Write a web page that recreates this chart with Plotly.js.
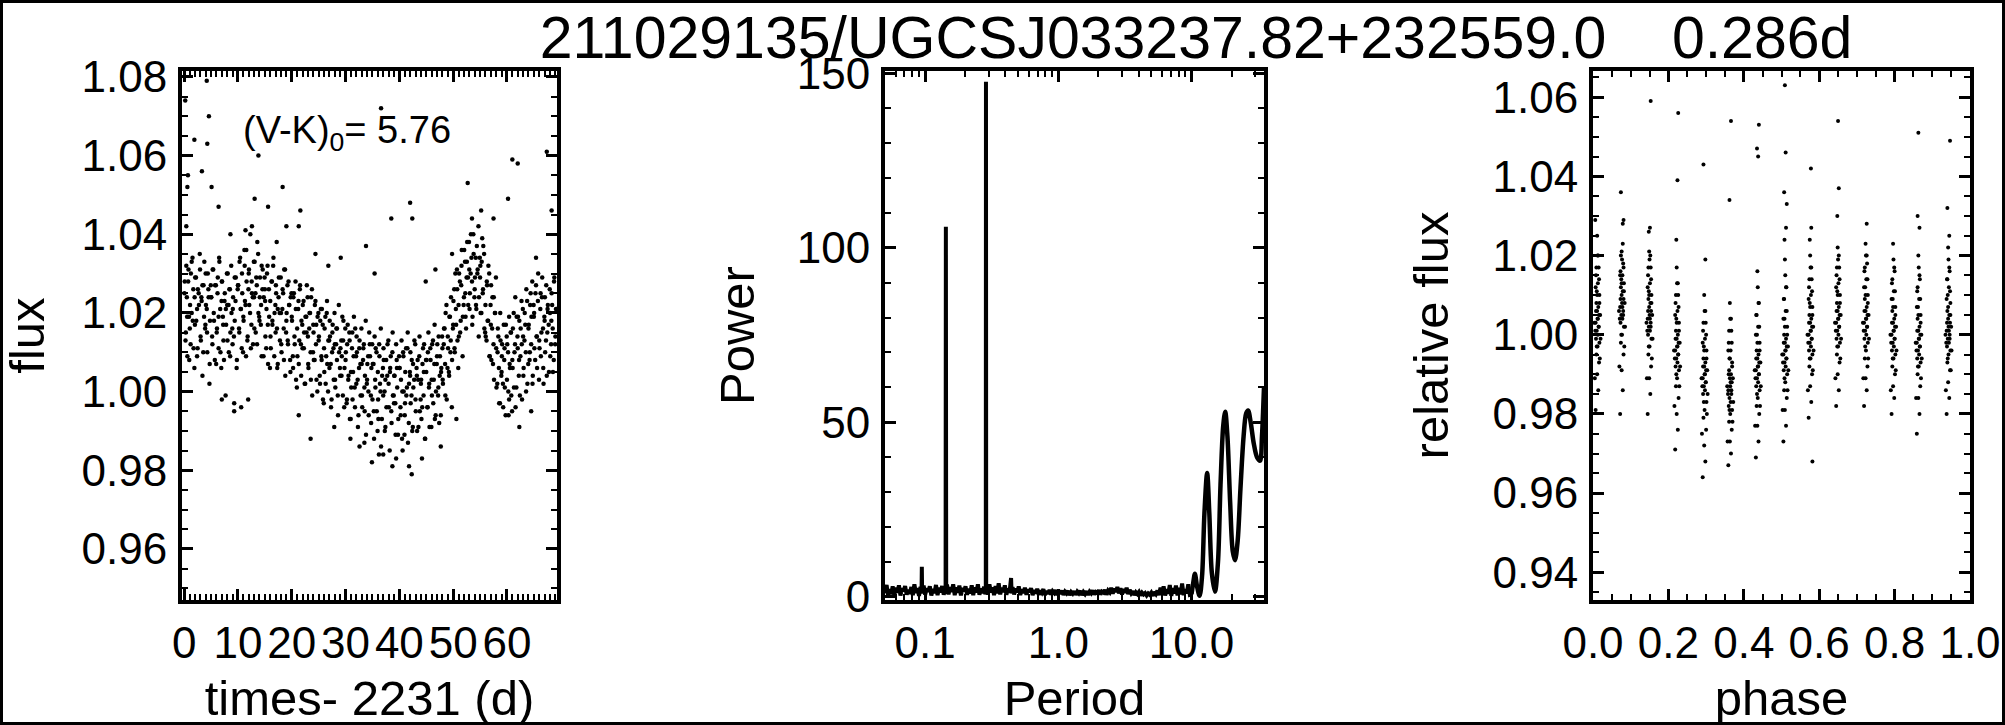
<!DOCTYPE html>
<html><head><meta charset="utf-8">
<script src="https://cdn.plot.ly/plotly-3.0.1.min.js"></script>
<style>html,body{margin:0;padding:0;background:#fff}#chart{width:2005px;height:725px}</style>
</head><body><div id="chart"></div><script>
// ---------- Panel 1: light curve (time - 2231 d, flux) ----------
const time1 = [
0.1,0.3,0.5,0.6,0.8,0.9, 1.1,1.2,1.4,1.6,1.7,1.9, 2.0,2.2,2.4,2.5,2.7,2.9, 3.1,3.2,3.4,3.6,3.7,3.9, 4.0,4.2,4.3,4.5,4.7,4.8,
5.0,5.2,5.3,5.5,5.7,5.9, 6.1,6.2,6.4,6.5,6.7,6.9, 7.0,7.2,7.3,7.5,7.7,7.8, 8.0,8.1,8.3,8.5,8.6,8.8, 9.0,9.1,9.3,9.4,9.6,9.8,
10.0,10.2,10.3,10.5,10.7,10.8, 11.0,11.2,11.3,11.5,11.6,11.8, 12.0,12.1,12.3,12.5,12.6,12.8, 13.0,13.1,13.3,13.5,13.6,13.8, 14.0,14.1,14.3,14.4,14.6,14.8,
15.0,15.1,15.3,15.5,15.6,15.8, 16.0,16.1,16.3,16.4,16.6,16.8, 17.0,17.1,17.3,17.4,17.6,17.8, 18.0,18.1,18.3,18.5,18.6,18.8, 19.0,19.2,19.3,19.5,19.7,19.8,
20.0,20.2,20.3,20.5,20.7,20.8, 21.0,21.2,21.3,21.5,21.7,21.8, 22.0,22.2,22.3,22.5,22.7,22.8, 23.0,23.1,23.3,23.5,23.6,23.8, 24.0,24.1,24.3,24.5,24.6,24.8,
25.0,25.2,25.3,25.5,25.6,25.8, 26.0,26.1,26.3,26.5,26.6,26.8, 27.0,27.1,27.3,27.5,27.6,27.8, 28.0,28.1,28.3,28.4,28.6,28.8, 29.0,29.2,29.3,29.5,29.6,29.8,
30.0,30.2,30.3,30.5,30.7,30.8, 31.0,31.2,31.3,31.5,31.7,31.8, 32.0,32.1,32.3,32.5,32.6,32.8, 33.0,33.1,33.3,33.5,33.6,33.8, 34.0,34.2,34.3,34.5,34.7,34.8,
35.0,35.2,35.3,35.5,35.6,35.8, 36.0,36.1,36.3,36.5,36.6,36.8, 37.0,37.1,37.3,37.4,37.6,37.8, 38.0,38.2,38.3,38.5,38.7,38.8, 39.0,39.1,39.3,39.5,39.6,39.8,
40.0,40.2,40.3,40.5,40.7,40.8, 41.0,41.1,41.3,41.5,41.6,41.8, 42.0,42.1,42.3,42.5,42.6,42.8, 43.0,43.2,43.3,43.5,43.7,43.8, 44.0,44.1,44.3,44.5,44.6,44.8,
45.0,45.2,45.3,45.5,45.6,45.8, 46.0,46.1,46.3,46.5,46.6,46.8, 47.0,47.2,47.3,47.5,47.7,47.8, 48.0,48.1,48.3,48.5,48.6,48.8, 49.0,49.2,49.3,49.5,49.6,49.8,
50.0,50.2,50.3,50.5,50.7,50.8, 51.0,51.1,51.3,51.5,51.6,51.8, 52.0,52.2,52.3,52.5,52.6,52.8, 53.0,53.1,53.3,53.5,53.6,53.8, 54.0,54.2,54.3,54.5,54.7,54.8,
55.0,55.1,55.3,55.5,55.6,55.8, 56.0,56.2,56.3,56.5,56.7,56.8, 57.0,57.1,57.3,57.5,57.6,57.8, 58.0,58.2,58.3,58.5,58.7,58.8, 59.0,59.1,59.3,59.5,59.6,59.8,
60.0,60.2,60.3,60.5,60.7,60.8, 61.0,61.1,61.3,61.5,61.6,61.8, 62.0,62.2,62.3,62.5,62.7,62.8, 63.0,63.1,63.3,63.5,63.6,63.8, 64.0,64.2,64.3,64.5,64.7,64.8,
65.0,65.1,65.3,65.5,65.6,65.8, 66.0,66.2,66.3,66.5,66.7,66.8, 67.0,67.1,67.3,67.5,67.6,67.8, 68.0,68.2,68.3,68.5,68.7,68.8, 69.0,69.1
];
const flux1 = [
1.028,1.015,1.024,1.009,1.031,1.019, 1.022,1.012,1.033,1.018,1.026,1.006, 1.017,1.029,1.021,1.011,1.025,1.035, 1.013,1.024,1.004,1.027,1.019,1.016, 1.030,1.021,1.010,1.026,1.002,1.018,
1.024,1.014,1.031,1.020,1.008,1.027, 1.016,1.025,1.011,1.034,1.021,1.006, 1.028,1.019,1.013,1.023,0.999,1.017, 1.022,1.030,1.010,1.026,1.015,1.020, 1.012,1.024,0.997,1.018,1.029,1.008,
1.027,1.016,1.033,1.021,1.011,1.025, 1.019,1.036,1.023,1.009,1.028,1.014, 1.030,1.022,1.040,1.017,1.025,1.012, 1.024,1.033,1.015,1.027,1.038,1.020, 1.018,1.029,1.022,1.009,1.031,1.024,
1.026,1.014,1.021,1.032,1.007,1.019, 1.023,1.011,1.028,1.017,1.034,1.020, 1.015,1.025,1.006,1.021,1.029,1.013, 1.020,1.010,1.026,1.016,1.031,1.004, 1.018,1.027,1.012,1.022,1.008,1.024,
1.019,1.009,1.024,1.014,1.028,1.003, 1.016,1.021,1.007,1.026,1.012,1.018, 1.011,1.023,1.015,1.002,1.019,1.027, 1.014,1.006,1.020,1.010,1.024,0.999, 1.017,1.008,1.022,1.012,1.003,1.019,
1.013,1.004,1.018,1.009,1.021,0.998, 1.011,1.016,1.002,1.020,1.007,1.013, 1.006,1.014,0.996,1.010,1.017,1.003, 1.012,1.001,1.016,1.008,0.994,1.010, 1.004,1.013,1.009,0.999,1.018,1.006,
1.008,0.997,1.012,1.003,1.015,0.993, 1.005,1.011,0.998,1.009,1.001,1.016, 1.002,1.010,0.991,1.006,1.013,0.999, 1.007,0.996,1.011,1.001,1.004,0.989, 1.003,1.009,0.994,1.012,0.999,1.006,
0.998,1.007,0.988,1.003,1.011,0.995, 1.005,0.993,1.009,1.000,0.986,1.004, 0.999,1.008,0.990,1.003,0.996,1.012, 1.002,0.985,1.006,0.995,1.010,0.999, 0.997,1.004,0.989,1.008,1.001,0.993,
1.006,0.996,1.003,0.988,1.010,1.000, 0.994,1.005,0.999,1.011,0.987,1.002, 1.004,0.997,1.008,0.991,1.001,1.013, 0.998,1.006,0.990,1.003,1.009,0.995, 1.002,0.993,1.007,0.999,1.012,0.988,
1.005,0.996,1.010,1.001,0.991,1.008, 1.003,1.012,0.997,1.007,0.993,1.000, 1.009,0.999,1.014,1.004,0.994,1.006, 1.011,1.002,1.016,1.007,1.020,0.998, 1.014,1.005,1.019,1.010,1.024,1.008,
1.017,1.026,1.010,1.021,1.031,1.013, 1.022,1.030,1.015,1.027,1.036,1.019, 1.024,1.033,1.019,1.029,1.038,1.022, 1.031,1.025,1.040,1.028,1.019,1.035, 1.026,1.034,1.021,1.030,1.042,1.024,
1.029,1.020,1.033,1.025,1.037,1.016, 1.022,1.013,1.027,1.018,1.030,1.009, 1.017,1.008,1.024,1.012,1.003,1.020, 1.011,1.002,1.016,1.006,0.997,1.013, 1.005,1.012,0.996,1.008,1.001,1.017,
1.003,1.010,0.994,1.007,1.015,0.999, 1.008,1.016,1.001,1.012,0.996,1.019, 1.011,1.004,1.018,1.009,1.023,0.998, 1.014,1.006,1.020,1.010,1.026,1.002, 1.016,1.008,1.022,1.012,1.028,1.004,
1.019,1.011,1.025,1.014,1.006,1.030, 1.013,1.021,1.009,1.024,1.016,1.002, 1.018,1.010,1.027,1.015,1.022,1.005, 1.020,1.012,1.025,1.016,1.008,1.029, 1.014,1.021
];
// second block of samples, interleaved in time
const time1b = [
0.05,0.25,0.4,0.55,0.75,0.95, 1.05,1.25,1.4,1.55,1.75,1.95, 2.05,2.25,2.4,2.55,2.75,2.95, 3.05,3.25,3.4,3.55,3.75,3.95, 4.05,4.25,4.4,4.55,4.75,4.95,
5.05,5.25,5.4,5.55,5.75,5.95, 6.05,6.25,6.4,6.55,6.75,6.95, 7.05,7.25,7.4,7.55,7.75,7.95, 8.05,8.25,8.4,8.55,8.75,8.95, 9.05,9.25,9.4,9.55,9.75,9.95,
10.05,10.25,10.4,10.55,10.75,10.95, 11.05,11.25,11.4,11.55,11.75,11.95, 12.05,12.25,12.4,12.55,12.75,12.95, 13.05,13.25,13.4,13.55,13.75,13.95, 14.05,14.25,14.4,14.55,14.75,14.95,
15.05,15.25,15.4,15.55,15.75,15.95, 16.05,16.25,16.4,16.55,16.75,16.95, 17.05,17.25,17.4,17.55,17.75,17.95, 18.05,18.25,18.4,18.55,18.75,18.95, 19.05,19.25,19.4,19.55,19.75,19.95,
20.05,20.25,20.4,20.55,20.75,20.95, 21.05,21.25,21.4,21.55,21.75,21.95, 22.05,22.25,22.4,22.55,22.75,22.95, 23.05,23.25,23.4,23.55,23.75,23.95, 24.05,24.25,24.4,24.55,24.75,24.95,
25.05,25.25,25.4,25.55,25.75,25.95, 26.05,26.25,26.4,26.55,26.75,26.95, 27.05,27.25,27.4,27.55,27.75,27.95, 28.05,28.25,28.4,28.55,28.75,28.95, 29.05,29.25,29.4,29.55,29.75,29.95,
30.05,30.25,30.4,30.55,30.75,30.95, 31.05,31.25,31.4,31.55,31.75,31.95, 32.05,32.25,32.4,32.55,32.75,32.95, 33.05,33.25,33.4,33.55,33.75,33.95, 34.05,34.25,34.4,34.55,34.75,34.95,
35.05,35.25,35.4,35.55,35.75,35.95, 36.05,36.25,36.4,36.55,36.75,36.95, 37.05,37.25,37.4,37.55,37.75,37.95, 38.05,38.25,38.4,38.55,38.75,38.95, 39.05,39.25,39.4,39.55,39.75,39.95,
40.05,40.25,40.4,40.55,40.75,40.95, 41.05,41.25,41.4,41.55,41.75,41.95, 42.05,42.25,42.4,42.55,42.75,42.95, 43.05,43.25,43.4,43.55,43.75,43.95, 44.05,44.25,44.4,44.55,44.75,44.95,
45.05,45.25,45.4,45.55,45.75,45.95, 46.05,46.25,46.4,46.55,46.75,46.95, 47.05,47.25,47.4,47.55,47.75,47.95, 48.05,48.25,48.4,48.55,48.75,48.95, 49.05,49.25,49.4,49.55,49.75,49.95,
50.05,50.25,50.4,50.55,50.75,50.95, 51.05,51.25,51.4,51.55,51.75,51.95, 52.05,52.25,52.4,52.55,52.75,52.95, 53.05,53.25,53.4,53.55,53.75,53.95, 54.05,54.25,54.4,54.55,54.75,54.95,
55.05,55.25,55.4,55.55,55.75,55.95, 56.05,56.25,56.4,56.55,56.75,56.95, 57.05,57.25,57.4,57.55,57.75,57.95, 58.05,58.25,58.4,58.55,58.75,58.95, 59.05,59.25,59.4,59.55,59.75,59.95,
60.05,60.25,60.4,60.55,60.75,60.95, 61.05,61.25,61.4,61.55,61.75,61.95, 62.05,62.25,62.4,62.55,62.75,62.95, 63.05,63.25,63.4,63.55,63.75,63.95, 64.05,64.25,64.4,64.55,64.75,64.95,
65.05,65.25,65.4,65.55,65.75,65.95, 66.05,66.25,66.4,66.55,66.75,66.95, 67.05,67.25,67.4,67.55,67.75,67.95, 68.05,68.25,68.4,68.55,68.75,68.95
];
const flux1b = [
1.025,1.013,1.032,1.019,1.028,1.008, 1.016,1.030,1.020,1.034,1.011,1.024, 1.029,1.018,1.009,1.026,1.022,1.031, 1.014,1.023,1.027,1.010,1.033,1.017, 1.022,1.015,1.030,1.024,1.007,1.027,
1.024,1.012,1.031,1.018,1.027,1.007, 1.015,1.029,1.019,1.033,1.010,1.023, 1.028,1.017,1.008,1.025,1.021,1.030, 1.013,1.022,1.026,1.009,1.032,1.016, 1.021,1.014,1.029,1.023,1.006,1.026,
1.027,1.015,1.034,1.021,1.030,1.010, 1.018,1.032,1.022,1.036,1.013,1.026, 1.031,1.020,1.011,1.028,1.024,1.033, 1.016,1.025,1.029,1.012,1.035,1.019, 1.024,1.017,1.032,1.026,1.009,1.029,
1.023,1.011,1.030,1.017,1.026,1.006, 1.014,1.028,1.018,1.032,1.009,1.022, 1.027,1.016,1.007,1.024,1.020,1.029, 1.012,1.021,1.025,1.008,1.031,1.015, 1.020,1.013,1.028,1.022,1.005,1.025,
1.018,1.006,1.025,1.012,1.021,1.001, 1.009,1.023,1.013,1.027,1.004,1.017, 1.022,1.011,1.002,1.019,1.015,1.024, 1.007,1.016,1.020,1.003,1.026,1.010, 1.015,1.008,1.023,1.017,1.000,1.020,
1.014,1.002,1.021,1.008,1.017,0.997, 1.005,1.019,1.009,1.023,1.000,1.013, 1.018,1.007,0.998,1.015,1.011,1.020, 1.003,1.012,1.016,0.999,1.022,1.006, 1.011,1.004,1.019,1.013,0.996,1.016,
1.010,0.998,1.017,1.004,1.013,0.993, 1.001,1.015,1.005,1.019,0.996,1.009, 1.014,1.003,0.994,1.011,1.007,1.016, 0.999,1.008,1.012,0.995,1.018,1.002, 1.007,1.000,1.015,1.009,0.992,1.012,
1.007,0.995,1.014,1.001,1.010,0.990, 0.998,1.012,1.002,1.016,0.993,1.006, 1.011,1.000,0.991,1.008,1.004,1.013, 0.996,1.005,1.009,0.992,1.015,0.999, 1.004,0.997,1.012,1.006,0.989,1.009,
1.006,0.994,1.013,1.000,1.009,0.989, 0.997,1.011,1.001,1.015,0.992,1.005, 1.010,0.999,0.990,1.007,1.003,1.012, 0.995,1.004,1.008,0.991,1.014,0.998, 1.003,0.996,1.011,1.005,0.988,1.008,
1.008,0.996,1.015,1.002,1.011,0.991, 0.999,1.013,1.003,1.017,0.994,1.007, 1.012,1.001,0.992,1.009,1.005,1.014, 1.003,1.012,1.016,0.999,1.022,1.006, 1.011,1.004,1.019,1.013,0.996,1.016,
1.023,1.011,1.030,1.017,1.026,1.006, 1.014,1.028,1.018,1.032,1.009,1.022, 1.036,1.025,1.016,1.033,1.029,1.038, 1.021,1.030,1.034,1.017,1.040,1.024, 1.029,1.022,1.037,1.031,1.014,1.034,
1.032,1.020,1.039,1.026,1.035,1.015, 1.014,1.028,1.018,1.032,1.009,1.022, 1.027,1.016,1.007,1.024,1.020,1.029, 1.001,1.010,1.014,0.997,1.020,1.004, 1.009,1.002,1.017,1.011,0.994,1.014,
1.012,1.000,1.019,1.006,1.015,0.995, 1.006,1.020,1.010,1.024,1.001,1.014, 1.019,1.008,0.999,1.016,1.012,1.021, 1.004,1.013,1.017,1.000,1.023,1.007, 1.017,1.010,1.025,1.019,1.002,1.022,
1.020,1.008,1.027,1.014,1.023,1.003, 1.011,1.025,1.015,1.029,1.006,1.019, 1.024,1.013,1.004,1.021,1.017,1.026, 1.009,1.018,1.022,1.005,1.028,1.012
];
// scattered outlying points of the light curve
const time1Out = [0.2,4.2,4.6,36.6,1.9,4.3,13.8,67.4,61.0,62.0,0.7,3.3,0.6,5.1,18.3,52.7,13.1,15.6,42.0,6.4,60.2,21.6,38.5,42.4,53.5,55.2,0.4,12.6,19.0,21.3,57.5,68.3,33.8,35.4,29.1,49.8,65.4,8.6,11.4,17.2,24.4,26.8,44.9,46.7,
7.0,9.3,10.6,11.9,21.3,23.5,27.9,30.9,32.6,34.9,37.0,38.7,41.8,42.3,44.2,47.7,50.6,62.3,64.5,60.4,36.2,39.4,40.6,33.5];
const flux1Out = [1.074,1.079,1.070,1.072,1.064,1.063,1.060,1.061,1.059,1.058,1.055,1.056,1.052,1.052,1.052,1.053,1.049,1.047,1.048,1.047,1.049,1.046,1.044,1.044,1.044,1.046,1.042,1.042,1.042,1.042,1.044,1.046,1.037,1.030,1.034,1.035,1.034,1.040,1.041,1.038,1.035,1.032,1.028,1.031,
0.998,0.995,0.996,0.998,0.994,0.988,0.991,0.988,0.986,0.982,0.984,0.981,0.981,0.979,0.983,0.986,0.993,0.991,0.995,0.998,0.984,0.983,0.985,0.987];

// ---------- Panel 2: periodogram (Period in d, Power) ----------
const periodShort = [
0.0500,0.0514,0.0527,0.0541,0.0556,0.0571,0.0587,0.0603,0.0619,0.0636,
0.0653,0.0671,0.0689,0.0708,0.0727,0.0747,0.0767,0.0788,0.0809,0.0831,
0.0853,0.0876,0.0900,0.0924,0.0940,0.0945,0.0950,0.0975,0.1001,0.1028,
0.1056,0.1085,0.1114,0.1144,0.1175,0.1207,0.1240,0.1273,0.1308,0.1343,
0.1380,0.1410,0.1425,0.1432,0.1440,0.1460,0.1500,0.1540,0.1582,0.1625,
0.1669,0.1714,0.1760,0.1808,0.1857,0.1907,0.1958,0.2011,0.2066,0.2122,
0.2179,0.2238,0.2298,0.2360,0.2424,0.2490,0.2557,0.2626,0.2697,0.2770,
0.2830,0.2855,0.2864,0.2875,0.2900,0.2960,0.3040,0.3122,0.3207,0.3293,
0.3382,0.3474,0.3568,0.3664,0.3763,0.3865,0.3969,0.4076,0.4186,0.4299,
0.4380,0.4420,0.4460,0.4535,0.4657,0.4783,0.4912,0.5045,0.5181,0.5321,
0.5465,0.5612,0.5764,0.5919,0.6079,0.6243,0.6412,0.6585,0.6763,0.6945,
0.7133,0.7325,0.7523,0.7726,0.7935,0.8149,0.8369,0.8595,0.8827,0.9066,
0.9310,0.9562,0.9820,1.0085,1.0357,1.0637,1.0924,1.1219,1.1522,1.1833,
1.2153,1.2481,1.2818,1.3164,1.3519,1.3884,1.4259,1.4644,1.5040,1.5446,
1.5863,1.6291,1.6731,1.7183,1.7647,1.8123,1.8613,1.9115,1.9631,2.0161,
2.0706,2.1265,2.1839,2.2428,2.3034,2.3656,2.4295,2.4951,2.5625,2.6316,
2.7027,2.7757,2.8506,2.9276,3.0066,3.0878,3.1712,3.2568,3.3447,3.4350,
3.5278,3.6230,3.7209,3.8213,3.9245,4.0305,4.1393,4.2510,4.3658,4.4837,
4.6048,4.7291,4.8568,4.9879,5.1226,5.2609,5.4029,5.5488,5.6986,5.8525,
6.0105,6.1728,6.3395,6.5107,6.6864,6.8670,7.0524,7.2428,7.4383,7.6392,
7.8454,8.0573,8.2748,8.4982,8.7277,8.9633,9.2053,9.4539,9.7091,10.0];
const powerShort = [
1.0,3.4,0.4,2.2,0.8,3.0,0.5,2.6,1.2,3.3,
0.4,2.4,1.6,3.1,0.6,2.0,0.9,2.8,0.5,3.6,
1.1,2.5,0.3,2.9,1.0,8.6,1.2,3.2,0.6,2.4,
1.5,3.0,0.4,2.3,1.1,3.4,0.5,2.6,1.3,3.1,
0.6,2.5,0.9,106.0,1.1,3.5,0.7,2.8,1.4,3.6,
0.5,2.7,1.2,3.2,0.4,2.5,1.6,3.0,0.6,2.3,
1.0,3.3,0.5,2.7,1.3,3.6,0.6,2.4,1.1,2.9,
0.8,1.2,147.5,1.4,3.2,0.6,3.6,1.3,2.7,0.5,
3.1,1.0,3.9,0.7,2.6,1.4,3.3,0.6,2.4,1.2,
3.0,5.4,1.0,2.8,0.7,2.4,1.3,3.0,0.5,2.2,
1.1,2.6,0.6,2.1,1.4,2.5,0.5,1.9,1.0,2.3,
0.6,1.8,1.2,2.2,0.5,1.7,0.9,2.0,0.6,1.6,
1.1,1.9,0.5,1.6,0.9,1.8,0.6,1.5,1.0,1.7,
0.5,1.4,0.9,1.6,0.6,1.5,1.0,1.7,0.5,1.4,
0.8,1.6,0.6,1.5,1.0,1.8,0.7,1.4,1.1,1.9,
0.7,1.5,1.2,2.0,0.6,1.8,1.3,2.6,0.9,2.4,
1.4,2.8,1.0,2.5,0.7,2.2,1.2,2.6,0.8,2.0,
1.0,1.6,0.5,1.3,0.8,1.4,0.4,1.2,0.7,1.1,
0.4,1.0,0.6,1.2,0.3,1.4,0.8,1.8,0.5,2.6,
0.6,3.0,0.4,2.2,0.9,3.4,0.3,2.5,1.0,3.2,
0.4,2.6,0.7,3.8,0.5,2.2,1.0,3.6,0.6,0.8];
const periodLong = [10.0,10.3,10.6,11.0,11.5,12.0,12.5,13.1,13.6,14.2,15.0,15.8,16.5,17.3,17.9,18.6,19.5,20.4,21.2,22.2,23.3,24.6,25.7,26.6,27.8,29.3,31.0,32.7,33.8,34.6,35.0];
const powerLong = [0.8,4.0,6.6,3.0,0.3,6.0,24,35.5,24,7,1.5,10,32,49,53,46,27,13,10.5,16,31,46,52.5,53.4,50,44,40,39,46,55,60];

// ---------- Panel 3: folded light curve (phase, relative flux) ----------
const phase3 = [
0.007,0.014,0.011,0.016,0.009,0.012,0.017,0.008,0.013,0.010,0.015,0.007,0.012,0.016,0.011,0.014,0.009,0.017,0.010,0.013,0.008,0.015,0.012,0.011,
0.072,0.079,0.076,0.081,0.074,0.077,0.082,0.073,0.078,0.075,0.080,0.072,0.077,0.081,0.076,0.079,0.074,0.082,0.075,0.078,0.073,0.080,0.077,0.076,
0.145,0.152,0.149,0.154,0.147,0.150,0.155,0.146,0.151,0.148,0.153,0.145,0.150,0.154,0.149,0.152,0.147,0.155,0.148,0.151,0.146,0.153,0.150,0.149,
0.218,0.225,0.222,0.227,0.220,0.223,0.228,0.219,0.224,0.221,0.226,0.218,0.223,0.227,0.222,0.225,0.220,0.228,0.221,0.224,0.219,0.226,0.223,0.222,
0.291,0.298,0.295,0.300,0.293,0.296,0.301,0.292,0.297,0.294,0.299,0.291,0.296,0.300,0.295,0.298,0.293,0.301,0.294,0.297,0.292,0.299,0.296,0.295,
0.359,0.366,0.363,0.368,0.361,0.364,0.369,0.360,0.365,0.362,0.367,0.359,0.364,0.368,0.363,0.366,0.361,0.369,0.362,0.365,0.360,0.367,0.364,0.363,
0.432,0.439,0.436,0.441,0.434,0.437,0.442,0.433,0.438,0.435,0.440,0.432,0.437,0.441,0.436,0.439,0.434,0.442,0.435,0.438,0.433,0.440,0.437,0.436,
0.505,0.512,0.509,0.514,0.507,0.510,0.515,0.506,0.511,0.508,0.513,0.505,0.510,0.514,0.509,0.512,0.507,0.515,0.508,0.511,0.506,0.513,0.510,0.509,
0.572,0.579,0.576,0.581,0.574,0.577,0.582,0.573,0.578,0.575,0.580,0.572,0.577,0.581,0.576,0.579,0.574,0.582,0.575,0.578,0.573,0.580,0.577,0.576,
0.645,0.652,0.649,0.654,0.647,0.650,0.655,0.646,0.651,0.648,0.653,0.645,0.650,0.654,0.649,0.652,0.647,0.655,0.648,0.651,0.646,0.653,0.650,0.649,
0.719,0.726,0.723,0.728,0.721,0.724,0.729,0.720,0.725,0.722,0.727,0.719,0.724,0.728,0.723,0.726,0.721,0.729,0.722,0.725,0.720,0.727,0.724,0.723,
0.792,0.799,0.796,0.801,0.794,0.797,0.802,0.793,0.798,0.795,0.800,0.792,0.797,0.801,0.796,0.799,0.794,0.802,0.795,0.798,0.793,0.800,0.797,0.796,
0.859,0.866,0.863,0.868,0.861,0.864,0.869,0.860,0.865,0.862,0.867,0.859,0.864,0.868,0.863,0.866,0.861,0.869,0.862,0.865,0.860,0.867,0.864,0.863,
0.938,0.945,0.942,0.947,0.940,0.943,0.948,0.939,0.944,0.941,0.946,0.938,0.943,0.947,0.942,0.945,0.940,0.948,0.941,0.944,0.939,0.946,0.943,0.942
];
const relFlux3 = [
0.981,0.986,0.990,0.993,0.995,0.997,0.998,0.999,1.000,1.001,1.002,1.003,1.004,1.005,1.006,1.007,1.008,1.010,1.011,1.013,1.015,1.017,1.020,1.025,
0.980,0.986,0.991,0.995,0.998,1.000,1.002,1.003,1.004,1.005,1.006,1.007,1.008,1.009,1.010,1.011,1.012,1.013,1.014,1.015,1.016,1.018,1.019,1.021,
0.980,0.985,0.989,0.992,0.995,0.997,0.999,1.000,1.001,1.002,1.003,1.004,1.005,1.006,1.007,1.008,1.009,1.010,1.011,1.013,1.015,1.017,1.019,1.021,
0.971,0.976,0.980,0.984,0.987,0.989,0.991,0.992,0.993,0.994,0.995,0.996,0.997,0.998,0.999,1.000,1.001,1.003,1.004,1.006,1.008,1.010,1.013,1.017,
0.964,0.968,0.972,0.976,0.979,0.981,0.983,0.985,0.986,0.987,0.988,0.989,0.990,0.991,0.992,0.993,0.994,0.996,0.997,0.999,1.001,1.003,1.006,1.010,
0.967,0.970,0.973,0.976,0.978,0.980,0.981,0.982,0.983,0.984,0.985,0.986,0.987,0.988,0.989,0.990,0.991,0.993,0.994,0.996,0.998,1.001,1.004,1.008,
0.969,0.973,0.977,0.980,0.982,0.984,0.986,0.987,0.988,0.989,0.990,0.991,0.992,0.993,0.994,0.995,0.996,0.998,1.000,1.002,1.005,1.008,1.012,1.016,
0.973,0.977,0.981,0.984,0.986,0.988,0.990,0.991,0.992,0.993,0.994,0.995,0.996,0.997,0.998,0.999,1.000,1.002,1.004,1.006,1.009,1.012,1.015,1.019,
0.979,0.983,0.987,0.990,0.992,0.994,0.995,0.996,0.997,0.998,0.999,1.000,1.001,1.002,1.003,1.004,1.005,1.007,1.008,1.010,1.012,1.014,1.017,1.020,
0.982,0.986,0.990,0.993,0.995,0.997,0.998,0.999,1.000,1.001,1.002,1.003,1.004,1.005,1.006,1.007,1.008,1.010,1.011,1.013,1.015,1.017,1.019,1.022,
0.982,0.986,0.989,0.992,0.994,0.996,0.998,0.999,1.000,1.001,1.002,1.003,1.004,1.005,1.006,1.007,1.009,1.010,1.012,1.014,1.016,1.018,1.020,1.023,
0.980,0.984,0.987,0.990,0.992,0.994,0.995,0.996,0.997,0.998,0.999,1.000,1.001,1.002,1.003,1.004,1.006,1.007,1.009,1.011,1.013,1.016,1.019,1.023,
0.975,0.980,0.984,0.987,0.990,0.992,0.993,0.994,0.995,0.996,0.997,0.998,0.999,1.000,1.001,1.002,1.004,1.005,1.007,1.009,1.011,1.014,1.017,1.020,
0.980,0.984,0.988,0.991,0.993,0.995,0.996,0.997,0.998,0.999,1.000,1.001,1.002,1.003,1.004,1.005,1.006,1.008,1.010,1.012,1.014,1.016,1.019,1.022
];
// second block of folded samples (stripe cores)
const phase3b = [
0.005,0.018,0.010,0.020,0.006,0.015,0.004,0.013,0.019,0.008,0.017,0.011,0.007,0.016,0.009,0.014,
0.070,0.083,0.075,0.085,0.071,0.080,0.069,0.078,0.084,0.073,0.082,0.076,0.072,0.081,0.074,0.079,
0.143,0.156,0.148,0.158,0.144,0.153,0.142,0.151,0.157,0.146,0.155,0.149,0.145,0.154,0.147,0.152,
0.216,0.229,0.221,0.231,0.217,0.226,0.215,0.224,0.230,0.219,0.228,0.222,0.218,0.227,0.220,0.225,
0.289,0.302,0.294,0.304,0.290,0.299,0.288,0.297,0.303,0.292,0.301,0.295,0.291,0.300,0.293,0.298,
0.357,0.370,0.362,0.372,0.358,0.367,0.356,0.365,0.371,0.360,0.369,0.363,0.359,0.368,0.361,0.366,
0.430,0.443,0.435,0.445,0.431,0.440,0.429,0.438,0.444,0.433,0.442,0.436,0.432,0.441,0.434,0.439,
0.503,0.516,0.508,0.518,0.504,0.513,0.502,0.511,0.517,0.506,0.515,0.509,0.505,0.514,0.507,0.512,
0.570,0.583,0.575,0.585,0.571,0.580,0.569,0.578,0.584,0.573,0.582,0.576,0.572,0.581,0.574,0.579,
0.643,0.656,0.648,0.658,0.644,0.653,0.642,0.651,0.657,0.646,0.655,0.649,0.645,0.654,0.647,0.652,
0.717,0.730,0.722,0.732,0.718,0.727,0.716,0.725,0.731,0.720,0.729,0.723,0.719,0.728,0.721,0.726,
0.790,0.803,0.795,0.805,0.791,0.800,0.789,0.798,0.804,0.793,0.802,0.796,0.792,0.801,0.794,0.799,
0.857,0.870,0.862,0.872,0.858,0.867,0.856,0.865,0.871,0.860,0.869,0.863,0.859,0.868,0.861,0.866,
0.936,0.949,0.941,0.951,0.937,0.946,0.935,0.944,0.950,0.939,0.948,0.942,0.938,0.947,0.940,0.945
];
const relFlux3b = [
0.989,0.994,0.997,0.999,1.001,1.002,1.003,1.004,1.005,1.006,1.008,1.010,1.012,1.014,1.017,1.020,
0.992,0.997,1.000,1.002,1.004,1.005,1.006,1.007,1.008,1.009,1.011,1.013,1.015,1.017,1.020,1.023,
0.989,0.994,0.997,0.999,1.001,1.002,1.003,1.004,1.005,1.006,1.008,1.010,1.012,1.014,1.017,1.020,
0.982,0.987,0.990,0.992,0.994,0.995,0.996,0.997,0.998,0.999,1.001,1.003,1.005,1.007,1.010,1.013,
0.975,0.980,0.983,0.985,0.987,0.988,0.989,0.990,0.991,0.992,0.994,0.996,0.998,1.000,1.003,1.006,
0.973,0.978,0.981,0.983,0.985,0.986,0.987,0.988,0.989,0.990,0.992,0.994,0.996,0.998,1.001,1.004,
0.977,0.982,0.985,0.987,0.989,0.990,0.991,0.992,0.993,0.994,0.996,0.998,1.000,1.002,1.005,1.008,
0.981,0.986,0.989,0.991,0.993,0.994,0.995,0.996,0.997,0.998,1.000,1.002,1.004,1.006,1.009,1.012,
0.986,0.991,0.994,0.996,0.998,0.999,1.000,1.001,1.002,1.003,1.005,1.007,1.009,1.011,1.014,1.017,
0.989,0.994,0.997,0.999,1.001,1.002,1.003,1.004,1.005,1.006,1.008,1.010,1.012,1.014,1.017,1.020,
0.989,0.994,0.997,0.999,1.001,1.002,1.003,1.004,1.005,1.006,1.008,1.010,1.012,1.014,1.017,1.020,
0.986,0.991,0.994,0.996,0.998,0.999,1.000,1.001,1.002,1.003,1.005,1.007,1.009,1.011,1.014,1.017,
0.984,0.989,0.992,0.994,0.996,0.997,0.998,0.999,1.000,1.001,1.003,1.005,1.007,1.009,1.012,1.015,
0.986,0.991,0.994,0.996,0.998,0.999,1.000,1.001,1.002,1.003,1.005,1.007,1.009,1.011,1.014,1.017
];
const phase3Out = [0.006,0.079,0.081,0.074,0.148,0.151,0.153,0.221,0.224,0.226,0.298,0.293,0.362,0.366,0.435,0.440,0.438,0.508,0.512,0.511,0.509,0.507,0.514,0.582,0.575,0.579,0.578,0.648,0.652,0.650,0.726,0.861,0.866,0.863,0.945,0.940,0.947];
const relFlux3Out = [1.029,1.028,1.029,1.036,1.026,1.027,1.059,1.024,1.039,1.056,1.019,1.043,1.034,1.054,1.047,1.053,1.045,1.024,1.027,1.046,1.063,1.036,1.033,0.968,1.024,1.027,1.042,1.030,1.037,1.054,1.028,1.030,1.027,1.051,1.025,1.032,1.049];

// ---------- tick labels ----------
const xTicks1 = [0,10,20,30,40,50,60], xText1 = ['0','10','20','30','40','50','60'];
const yTicks1 = [0.96,0.98,1.00,1.02,1.04,1.06,1.08], yText1 = ['0.96','0.98','1.00','1.02','1.04','1.06','1.08'];
const xTicks2 = [0.1,1,10], xText2 = ['0.1','1.0','10.0'];
const xMinor2 = [0.06,0.07,0.08,0.09,0.2,0.3,0.4,0.5,0.6,0.7,0.8,0.9,2,3,4,5,6,7,8,9,20,30];
const yTicks2 = [0,50,100,150], yText2 = ['0','50','100','150'];
const xTicks3 = [0,0.2,0.4,0.6,0.8,1.0], xText3 = ['0.0','0.2','0.4','0.6','0.8','1.0'];
const yTicks3 = [0.94,0.96,0.98,1.00,1.02,1.04,1.06], yText3 = ['0.94','0.96','0.98','1.00','1.02','1.04','1.06'];
const periodRange = [0.05, 35];

const W = 2005, H = 725;
const F = 'Liberation Sans, Arial, Helvetica, sans-serif';
const px = v => v / W, py = v => 1 - v / H;
const yDom = [py(600), py(71)];

function ax(extra) {
  return Object.assign({
    showline: true, linecolor: '#000', linewidth: 4, mirror: 'allticks',
    ticks: 'inside', ticklen: 11, tickwidth: 3, tickcolor: '#000',
    showgrid: false, zeroline: false, tickangle: 0, tickmode: 'array',
    tickfont: {family: F, size: 44, color: '#000'}, fixedrange: true
  }, extra);
}
const minorLin = d => ({ticks: 'inside', ticklen: 6, tickwidth: 2, tickcolor: '#000', dtick: d, showgrid: false});
const titleFont = {family: F, size: 49, color: '#000'};

const data = [
  {type: 'scatter', mode: 'markers', x: time1.concat(time1b, time1Out), y: flux1.concat(flux1b, flux1Out), xaxis: 'x', yaxis: 'y',
   marker: {color: '#000', size: 4.5, line: {width: 0}}, hoverinfo: 'skip'},
  {type: 'scatter', mode: 'lines', x: periodShort, y: powerShort, xaxis: 'x2', yaxis: 'y2', line: {color: '#000', width: 4}, hoverinfo: 'skip'},
  {type: 'scatter', mode: 'lines', x: periodLong, y: powerLong, xaxis: 'x2', yaxis: 'y2', line: {color: '#000', width: 4.5, shape: 'spline', smoothing: 0.9}, hoverinfo: 'skip'},
  {type: 'scatter', mode: 'markers', x: phase3.concat(phase3b, phase3Out), y: relFlux3.concat(relFlux3b, relFlux3Out), xaxis: 'x3', yaxis: 'y3',
   marker: {color: '#000', size: 4, line: {width: 0}}, hoverinfo: 'skip'}
];

const layout = {
  width: W, height: H, margin: {l: 0, r: 0, t: 0, b: 0},
  paper_bgcolor: '#fff', plot_bgcolor: '#fff', showlegend: false,
  font: {family: F, color: '#000'},
  title: {text: '211029135/UGCSJ033237.82+232559.0\u00a0\u00a0\u00a0\u00a00.286d', font: {family: F, size: 59, color: '#000'},
          x: px(1196), xanchor: 'center', y: py(37), yanchor: 'middle'},
  xaxis: ax({domain: [px(182), px(557)], anchor: 'y', range: [-0.4, 69.3], tickvals: xTicks1, ticktext: xText1, ticklabelstandoff: 1,
             minor: minorLin(1), title: {text: 'times- 2231 (d)', font: titleFont, standoff: 16}}),
  yaxis: ax({domain: yDom, anchor: 'x', range: [0.947, 1.0815], tickvals: yTicks1, ticktext: yText1, ticklabelstandoff: 2,
             minor: minorLin(0.005), title: {text: 'flux', font: titleFont, standoff: 40}}),
  xaxis2: ax({domain: [px(885), px(1264)], anchor: 'y2', type: 'log', range: periodRange.map(Math.log10), tickvals: xTicks2, ticktext: xText2, ticklabelstandoff: 1,
             minor: {ticks: 'inside', ticklen: 6, tickwidth: 2, tickcolor: '#000', tickmode: 'array', tickvals: xMinor2, showgrid: false},
             title: {text: 'Period', font: titleFont, standoff: 16}}),
  yaxis2: ax({domain: yDom, anchor: 'x2', range: [-0.9, 150.6], tickvals: yTicks2, ticktext: yText2, ticklabelstandoff: 2,
             minor: minorLin(10), title: {text: 'Power', font: titleFont, standoff: 28}}),
  xaxis3: ax({domain: [px(1593), px(1970)], anchor: 'y3', range: [0, 1], tickvals: xTicks3, ticktext: xText3, ticklabelstandoff: 1,
             minor: minorLin(0.05), title: {text: 'phase', font: titleFont, standoff: 16}}),
  yaxis3: ax({domain: yDom, anchor: 'x3', range: [0.933, 1.0666], tickvals: yTicks3, ticktext: yText3, ticklabelstandoff: 2,
             minor: minorLin(0.005), title: {text: 'relative flux', font: titleFont, standoff: 29}}),
  annotations: [
    {xref: 'paper', yref: 'paper', x: px(347), y: py(133), xanchor: 'center', yanchor: 'middle', showarrow: false,
     text: '(V-K)<sub>0</sub>= 5.76', font: {family: F, size: 38, color: '#000'}}
  ],
  shapes: [
    {type: 'rect', xref: 'paper', yref: 'paper', x0: px(1.5), x1: px(W - 1.5), y0: py(H - 1.5), y1: py(1.5), line: {color: '#000', width: 3}}
  ]
};

Plotly.newPlot('chart', data, layout, {displayModeBar: false, staticPlot: true});
</script></body></html>
